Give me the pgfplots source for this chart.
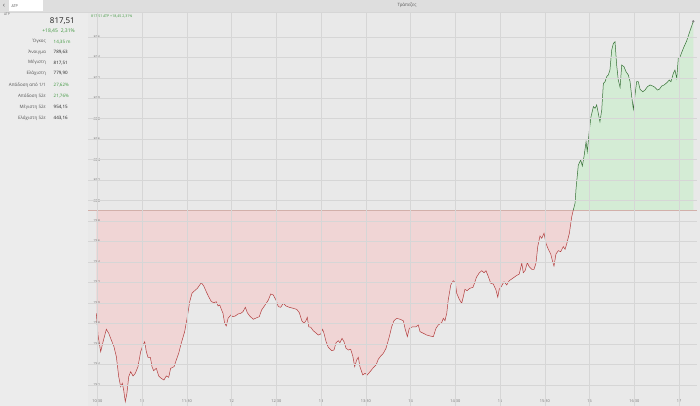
\documentclass[border=0pt]{standalone}
\usepackage{pgfplots}
\pgfplotsset{compat=1.18}
\usepackage{pgfplotstable}
\usepgfplotslibrary{fillbetween}
\usepackage{fontspec}
\setmainfont{Open Sans}
\definecolor{bgc}{RGB}{233,233,233}
\definecolor{panelc}{RGB}{236,236,236}
\definecolor{topc}{RGB}{222,222,222}
\definecolor{gridc}{RGB}{214,214,214}
\definecolor{redline}{RGB}{178,62,62}
\definecolor{redfill}{RGB}{240,213,213}
\definecolor{greenline}{RGB}{52,112,52}
\definecolor{greenfill}{RGB}{212,236,213}
\definecolor{basec}{RGB}{210,176,170}
\definecolor{labc}{RGB}{85,85,85}
\definecolor{valc}{RGB}{30,30,30}
\definecolor{grtxt}{RGB}{60,150,60}
\definecolor{tickc}{RGB}{115,115,115}

\pgfplotstableread{
x v
29.4 788.99
30.5 786.87
32.3 785.24
33.9 786.22
36.1 787.43
37.7 787.04
39.4 786.39
41.2 785.73
42.8 784.76
44.4 782.80
45.7 781.82
46.8 782.16
47.7 781.50
48.8 780.36
49.9 781.18
51.1 782.80
52.4 783.29
54.0 782.87
55.5 783.13
57.3 783.78
59.1 785.24
60.7 785.90
61.8 786.22
62.9 785.24
64.0 784.70
65.6 784.70
66.7 783.78
67.8 783.39
69.6 783.62
71.2 782.87
72.9 782.64
74.7 782.48
76.3 782.87
77.9 782.74
79.2 783.62
81.5 783.78
83.0 784.43
84.6 785.09
86.3 786.06
88.6 787.20
90.4 788.66
92.0 790.13
93.5 790.95
95.3 791.20
97.1 791.43
98.7 791.76
99.8 791.98
101.4 791.66
103.1 791.10
104.7 790.61
106.5 790.13
108.3 790.03
109.8 790.13
111.0 789.71
112.1 789.80
113.2 789.38
114.3 788.99
115.4 788.02
116.5 787.75
117.7 788.50
119.5 788.83
121.0 788.66
122.5 788.73
124.4 788.93
126.2 788.99
127.7 789.15
129.3 789.58
130.6 789.05
132.2 788.73
134.6 788.41
136.9 788.56
138.6 788.66
140.2 789.32
142.5 789.80
144.7 790.29
146.3 790.88
148.0 790.78
149.8 790.29
151.4 789.64
153.0 789.58
154.7 789.97
156.5 789.71
158.7 789.58
161.4 789.48
163.7 789.38
165.5 789.05
167.1 788.27
168.6 788.02
169.9 788.27
170.8 788.60
171.8 787.68
173.1 787.63
174.8 787.29
176.4 787.10
178.2 786.87
179.8 786.97
181.1 787.43
182.0 787.04
183.4 786.22
184.9 785.67
187.2 785.34
188.7 785.41
190.1 786.12
191.6 786.32
192.7 786.12
194.1 786.55
195.4 786.22
196.8 785.58
198.3 785.41
199.9 785.48
201.3 784.82
202.6 783.78
203.9 784.43
205.0 784.70
206.1 783.78
208.0 782.97
209.5 783.13
211.0 782.97
212.9 783.29
214.7 783.62
216.9 783.94
218.4 784.50
220.0 784.82
221.8 785.09
223.6 785.58
225.8 786.71
227.4 787.68
228.9 788.27
230.8 788.50
233.0 788.41
235.2 788.27
236.3 787.53
237.9 786.71
239.2 787.53
241.5 787.68
243.7 787.68
245.2 787.85
246.4 787.20
248.6 787.04
250.9 786.87
253.1 786.78
255.3 786.71
257.1 787.53
258.6 787.85
260.9 788.08
262.0 788.50
263.1 788.27
264.3 788.99
265.3 790.29
267.0 791.76
268.7 792.18
270.0 791.98
271.0 790.95
272.7 790.36
274.3 789.97
275.4 790.61
276.5 791.34
277.9 791.20
279.7 791.43
281.9 791.53
283.0 791.98
284.2 792.51
285.9 792.90
287.7 793.15
289.3 792.96
290.6 793.15
292.2 792.57
293.8 791.92
295.5 791.85
297.3 791.27
298.5 790.56
299.5 791.34
301.1 791.66
302.7 792.08
304.5 791.76
306.2 792.18
308.5 792.41
310.7 792.64
312.9 792.83
314.6 793.88
315.6 792.96
316.8 793.15
318.3 793.93
319.6 793.54
321.3 793.29
322.8 793.29
324.1 793.88
325.3 795.50
326.8 796.54
328.0 796.32
329.5 796.81
330.8 795.83
332.4 795.24
334.0 794.78
335.3 794.03
336.2 793.61
337.5 794.78
339.1 795.11
340.7 795.01
342.4 795.50
343.6 795.24
344.7 795.76
346.5 796.81
348.1 798.43
349.1 799.06
}\redtab

\pgfplotstableread{
x v
349.1 799.06
350.3 799.74
351.0 801.20
352.5 803.48
354.1 803.96
355.2 803.38
356.3 804.29
357.7 805.75
358.5 804.78
359.9 806.89
361.0 808.19
362.6 809.17
363.7 809.01
364.8 809.34
365.9 808.53
367.0 807.70
368.2 808.85
369.3 811.45
370.4 811.61
371.5 812.10
372.6 812.27
373.7 812.75
374.9 814.71
376.0 815.36
377.1 815.52
378.2 813.24
379.3 811.78
380.5 811.06
381.6 813.24
383.1 813.08
384.5 812.59
386.0 812.27
387.2 811.61
388.3 810.15
389.4 808.92
390.5 810.31
391.6 811.61
392.7 811.61
393.9 810.87
395.7 810.63
397.2 810.80
398.8 811.12
400.6 811.29
402.4 811.19
403.9 811.06
405.5 810.80
406.8 810.87
408.4 811.19
410.0 811.29
411.8 811.51
413.5 811.78
414.6 811.61
416.2 812.43
417.3 812.75
418.5 811.94
419.5 813.90
420.7 814.05
422.9 814.87
425.2 815.62
427.4 816.59
429.6 817.51
}\greentab

\begin{document}
\begin{tikzpicture}
\fill[bgc] (0,0) rectangle (700pt,-406pt);
\fill[panelc] (0,-12pt) rectangle (88pt,-406pt);
\fill[topc] (0,0) rectangle (700pt,-12pt);
\draw[gridc, line width=0.4pt] (0,-12pt) -- (700pt,-12pt);
\fill[white] (9pt,-0.5pt) rectangle (43pt,-11.5pt);
\node[anchor=center, font=\fontsize{7}{7}\selectfont, text=labc] at (4pt,-5.5pt) {‹};
\node[anchor=west, font=\fontsize{3.8}{4}\selectfont, text=labc, inner sep=0pt] at (11.5pt,-5.8pt) {ΔΤΡ};
\node[anchor=west, font=\fontsize{3.5}{4}\selectfont, text=tickc, inner sep=0pt] at (4pt,-14pt) {ΔΤΡ};
\node[anchor=center, font=\fontsize{4.4}{5}\selectfont, text=labc] at (407pt,-5.5pt) {Τράπεζες};

\node[anchor=east, font=\fontsize{8}{9}\selectfont, text=valc, inner sep=0pt] at (75pt,-21.5pt) {817,51};
\node[anchor=east, font=\fontsize{5}{6}\selectfont, text=grtxt, inner sep=0pt] at (75pt,-31pt) {+18,45\hspace{3pt}2,31\%};

\begin{scope}[font=\fontsize{4.5}{5}\selectfont, inner sep=0pt]
\node[anchor=east, text=labc] at (46pt,-41.7pt) {Όγκος};
\node[anchor=west, text=grtxt] at (53.5pt,-41.7pt) {14,35 m};
\node[anchor=east, text=labc] at (46pt,-52.3pt) {Άνοιγμα};
\node[anchor=west, text=valc] at (53.5pt,-52.3pt) {789,63};
\node[anchor=east, text=labc] at (46pt,-62.7pt) {Μέγιστη};
\node[anchor=west, text=valc] at (53.5pt,-62.7pt) {817,51};
\node[anchor=east, text=labc] at (46pt,-73.5pt) {Ελάχιστη};
\node[anchor=west, text=valc] at (53.5pt,-73.5pt) {779,90};
\node[anchor=east, text=labc] at (46pt,-85pt) {Απόδοση από 1/1};
\node[anchor=west, text=grtxt] at (53.5pt,-85pt) {27,62\%};
\node[anchor=east, text=labc] at (46pt,-96pt) {Απόδοση 52ε};
\node[anchor=west, text=grtxt] at (53.5pt,-96pt) {21,76\%};
\node[anchor=east, text=labc] at (46pt,-107.3pt) {Μέγιστη 52ε};
\node[anchor=west, text=valc] at (53.5pt,-107.3pt) {954,15};
\node[anchor=east, text=labc] at (46pt,-118pt) {Ελάχιστη 52ε};
\node[anchor=west, text=valc] at (53.5pt,-118pt) {443,16};
\end{scope}

\begin{axis}[
  at={(88pt,-12pt)}, anchor=north west,
  scale only axis, width=609pt, height=394pt,
  xmin=23.8, xmax=432.07, ymin=779.94, ymax=818.42,
  axis line style={draw=none}, tick style={draw=none},
  axis on top,
  fill between/on layer=main,
  xtick={30,60,...,420},
  xticklabels={10:30,11,11:30,12,12:30,13,13:30,14,14:30,15,15:30,16,16:30,17},
  ytick={782,784,...,816},
  grid=major,
  major grid style={draw=gridc, line width=0.45pt},
  /pgf/number format/assume math mode=true,
  xticklabel style={font=\fontsize{3.9}{4}\selectfont, text=tickc, anchor=center, yshift=5pt},
  yticklabel style={font=\fontsize{3.9}{4}\selectfont, text=tickc, anchor=west, xshift=2pt},
]
\addplot[name path=pr, draw=none] table[x=x, y=v] {\redtab};
\addplot[name path=br, draw=none] coordinates {(29.4,799.06) (349.1,799.06)};
\addplot[name path=pg, draw=none] table[x=x, y=v] {\greentab};
\addplot[name path=bg, draw=none] coordinates {(349.1,799.06) (429.6,799.06)};
\addplot[fill=redfill, draw=none] fill between[of=pr and br];
\addplot[fill=greenfill, draw=none] fill between[of=pg and bg];
\addplot[basec, line width=0.5pt] coordinates {(23.8,799.06) (432.07,799.06)};
\addplot[redline, line width=0.5pt] table[x=x, y=v] {\redtab};
\addplot[greenline, line width=0.5pt] table[x=x, y=v] {\greentab};
\addplot[only marks, mark=*, mark size=0.9pt, draw=gray, fill=gray] coordinates {(429.6,817.51)};
\node[anchor=west, font=\fontsize{3.6}{4}\selectfont, text=grtxt, inner sep=0pt] at (rel axis cs:0,1) [xshift=3pt, yshift=-4.5pt] {817,51 ΔΤΡ +18,45 2,31\%};
\end{axis}
\pgfresetboundingbox
\useasboundingbox (0,0) rectangle (700pt,-406pt);
\end{tikzpicture}
\end{document}
